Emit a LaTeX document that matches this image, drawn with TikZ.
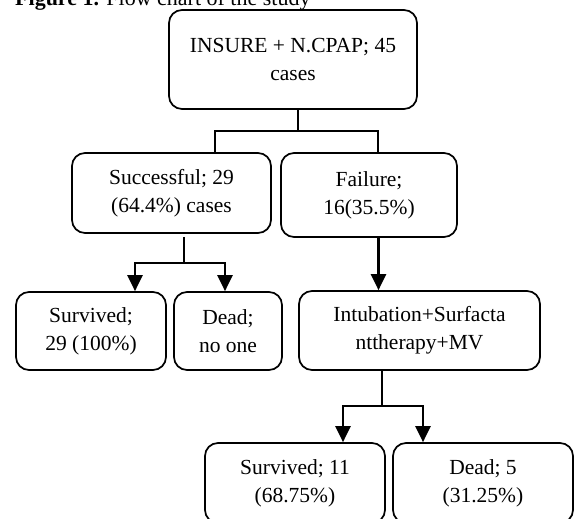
\documentclass[tikz,border=0pt]{standalone}
\usepackage{fontspec}
\setmainfont{Liberation Serif}
\usetikzlibrary{arrows.meta}
\begin{document}
\begin{tikzpicture}[x=1pt,y=-1pt,
  box/.style={draw, line width=1.7pt, rounded corners=13pt, align=center, inner sep=0pt, font=\fontsize{21.5}{28}\selectfont},
  conn/.style={line width=2.3pt},
  arr/.style={conn, -{Triangle[width=15pt,length=16pt]}}]
\useasboundingbox (0,0) rectangle (576,519);
\clip (0,0) rectangle (576,519);
\node[anchor=base west, inner sep=0pt, font=\fontsize{22}{24}\selectfont] (title) at (15,5.5) {\textbf{Figure 1.} Flow chart of the study};
\node[box, minimum width=248pt, minimum height=99pt] (top) at (293,59.5) {INSURE + N.CPAP; 45\\cases};
\node[box, minimum width=199pt, minimum height=80pt] (succ) at (171.5,193) {Successful; 29\\(64.4\%) cases};
\node[box, minimum width=176pt, minimum height=84pt] (fail) at (369,195) {Failure;\\16(35.5\%)};
\node[box, minimum width=150pt, minimum height=78pt] (surv1) at (91,331) {Survived;\\29 (100\%)};
\node[box, minimum width=108pt, minimum height=78pt] (dead1) at (228,331) {Dead;\\no one};
\node[box, minimum width=241pt, minimum height=79pt] (intub) at (419.5,330.5) {Intubation+Surfacta\\nttherapy+MV};
\node[box, minimum width=180pt, minimum height=80pt] (surv2) at (295,483) {Survived; 11\\(68.75\%)};
\node[box, minimum width=180pt, minimum height=80pt] (dead2) at (483,483) {Dead; 5\\(31.25\%)};
% top split
\coordinate (j1) at (298,131);
\coordinate (hl) at (215,131);
\coordinate (hr) at (378,131);
\draw[conn] (top.south -| j1) -- (j1) -- (hl) -- (hl |- succ.north);
\draw[conn] (j1) -- (hr) -- (hr |- fail.north);
% successful split
\coordinate (s1) at (184,263);
\coordinate (sl) at (135,263);
\coordinate (sr) at (225,263);
\draw[conn] ([yshift=-3pt]s1 |- succ.south) -- (s1);
\draw[arr] (s1) -- (sl) -- (sl |- surv1.north);
\draw[arr] (s1) -- (sr) -- (sr |- dead1.north);
% failure arrow
\coordinate (fa) at (378.5,250);
\draw[arr] (fa |- fail.south) -- (fa |- intub.north);
% intubation split
\coordinate (i1) at (382,406);
\coordinate (il) at (343,406);
\coordinate (ir) at (423,406);
\draw[conn] (i1 |- intub.south) -- (i1);
\draw[arr] (i1) -- (il) -- (il |- surv2.north);
\draw[arr] (i1) -- (ir) -- (ir |- dead2.north);
\end{tikzpicture}
\end{document}
